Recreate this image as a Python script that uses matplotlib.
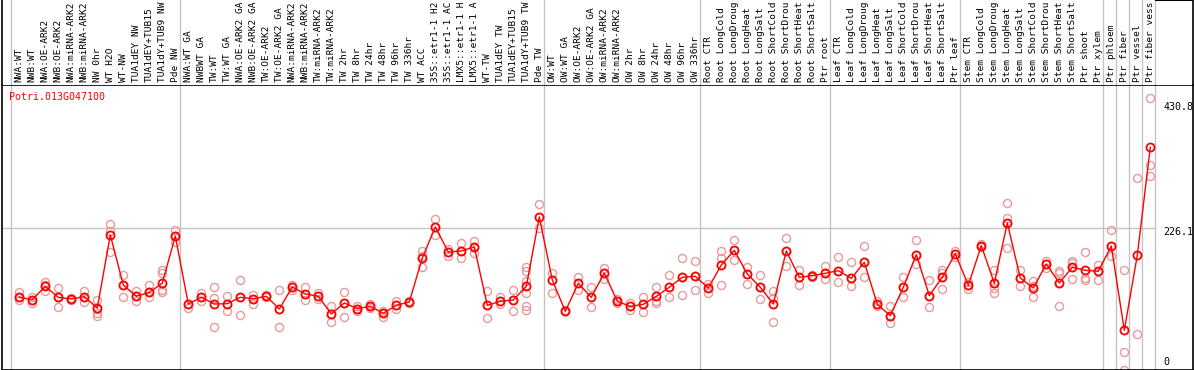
import matplotlib
matplotlib.use('Agg')
import matplotlib.pyplot as plt

# Sample labels (one per column), in plotting order, as shown (cut to 14 chars)
labels = [
    # NW group
    'NWA:WT', 'NWB:WT', 'NWA:OE-ARK2', 'NWB:OE-ARK2', 'NWA:miRNA-ARK2', 'NWB:miRNA-ARK2',
    'NW 0hr', 'WT H2O', 'WT-NW', 'TUA1dEY NW', 'TUA1dEY+TUB15', 'TUA1dY+TUB9 NW', 'Pde NW',
    # TW group
    'NWA:WT GA', 'NWBWT GA', 'TW:WT', 'TW:WT GA', 'NWA:OE-ARK2 GA', 'NWB:OE-ARK2 GA',
    'TW:OE-ARK2', 'TW:OE-ARK2 GA', 'NWA:miRNA-ARK2', 'NWB:miRNA-ARK2', 'TW:miRNA-ARK2',
    'TW:miRNA-ARK2', 'TW 2hr', 'TW 8hr', 'TW 24hr', 'TW 48hr', 'TW 96hr', 'TW 336hr', 'WT ACC',
    '35S::etr1-1 H2', '35S::etr1-1 AC', 'LMX5::etr1-1 H', 'LMX5::etr1-1 A', 'WT-TW',
    'TUA1dEY TW', 'TUA1dEY+TUB15', 'TUA1dY+TUB9 TW', 'Pde TW',
    # OW group
    'OW:WT', 'OW:WT GA', 'OW:OE-ARK2', 'OW:OE-ARK2 GA', 'OW:miRNA-ARK2', 'OW:miRNA-ARK2',
    'OW 2hr', 'OW 8hr', 'OW 24hr', 'OW 48hr', 'OW 96hr', 'OW 336hr',
    # Root
    'Root CTR', 'Root LongCold', 'Root LongDroug', 'Root LongHeat', 'Root LongSalt',
    'Root ShortCold', 'Root ShortDrou', 'Root ShortHeat', 'Root ShortSalt', 'Ptr root',
    # Leaf
    'Leaf CTR', 'Leaf LongCold', 'Leaf LongDroug', 'Leaf LongHeat', 'Leaf LongSalt',
    'Leaf ShortCold', 'Leaf ShortDrou', 'Leaf ShortHeat', 'Leaf ShortSalt', 'Ptr leaf',
    # Stem
    'Stem CTR', 'Stem LongCold', 'Stem LongDroug', 'Stem LongHeat', 'Stem LongSalt',
    'Stem ShortCold', 'Stem ShortDrou', 'Stem ShortHeat', 'Stem ShortSalt', 'Ptr shoot',
    'Ptr xylem',
    # wood cell types
    'Ptr phloem', 'Ptr fiber', 'Ptr vessel', 'Ptr fiber vess',
]

# first column index of each group (separator lines sit just before these)
group_starts = [0, 13, 41, 53, 63, 73, 84, 85, 86, 87]

# Mean expression per sample
means = [
    117.4, 113.7, 134.7, 117.4, 114.8, 118.5, 100.6, 215.6, 136.8, 119.0, 125.3, 139.5, 214.0,
    106.9, 117.4, 106.9, 107.4, 117.4, 115.3, 119.0, 99.0, 133.7, 122.7, 119.0, 91.2, 108.5,
    99.6, 103.2, 92.2, 104.8, 110.1, 179.3, 228.2, 188.8, 190.4, 196.7, 104.8, 111.1, 113.2,
    134.7, 243.9,
    144.7, 95.4, 139.5, 117.4, 155.7, 111.1, 103.2, 106.4, 119.0, 133.2, 148.9, 150.5,
    132.1, 168.3, 191.4, 154.1, 133.2, 106.9, 190.4, 148.9, 151.5, 155.2,
    159.4, 147.3, 172.5, 106.4, 88.5, 133.2, 184.6, 120.0, 148.9, 186.2,
    136.3, 198.8, 139.5, 234.5, 147.8, 132.1, 169.9, 140.0, 164.7, 159.9, 158.4,
    198.2, 65.5, 183.6, 353.6,
]

# Individual replicates per sample
replicates = [
    [125.8, 117.4, 112.7], [117.9, 113.7, 108.5], [141.0, 137.5, 126.9], [131.6, 117.4, 102.7],
    [116.5, 114.8, 113.5], [126.9, 118.5, 109.5], [112.7, 99.0, 92.7, 88.0], [232.4, 222.4, 188.3],
    [152.1, 136.8, 117.4], [127.9, 119.0, 111.1], [136.3, 125.3, 117.4],
    [161.0, 155.7, 129.0, 125.8], [222.9, 214.0, 204.5],
    [106.9, 100.6], [124.2, 117.4, 112.2], [133.2, 116.4, 70.2], [119.0, 107.4, 96.4],
    [144.2, 117.4, 89.1], [121.3, 115.3, 107.4], [120.5, 119.0, 117.5], [128.4, 99.0, 70.2],
    [137.4, 133.7, 129.0], [133.2, 122.7, 112.7], [124.2, 119.0, 114.5], [103.2, 91.2, 78.1],
    [125.8, 108.5, 85.9], [103.0, 99.6, 96.4], [106.4, 103.2, 100.0], [96.4, 92.2, 85.9],
    [111.1, 104.8, 99.6], [112.0, 110.1, 108.0], [190.9, 183.0, 164.7], [240.2, 228.2, 216.1],
    [193.5, 188.8, 183.0], [203.0, 190.4, 178.8], [205.6, 196.7, 186.7], [127.4, 104.8, 84.9],
    [117.4, 111.1, 106.4], [128.4, 113.2, 95.4], [164.7, 159.4, 142.6, 124.2, 103.2, 98.0],
    [263.8, 243.9, 226.6],
    [155.2, 144.7, 124.2], [97.0, 95.4], [148.9, 139.5, 129.0], [133.2, 117.4, 101.7],
    [163.6, 155.7, 146.8], [114.0, 111.1, 108.5], [108.5, 103.2, 98.0], [117.4, 106.4, 94.3],
    [133.2, 119.0, 111.1, 108.5], [152.1, 133.2, 117.4], [178.8, 148.9, 120.6],
    [174.6, 150.5, 128.4],
    [138.9, 132.1, 124.2], [189.8, 179.3, 136.3], [207.2, 191.4, 176.7], [164.7, 154.1, 138.4],
    [152.1, 133.2, 114.8], [126.9, 115.7, 78.1], [210.8, 190.4, 166.2], [161.0, 148.9, 136.3],
    [153.0, 151.5, 150.0], [166.2, 155.2, 146.3],
    [180.4, 159.4, 141.0], [172.5, 147.3, 135.3], [197.7, 172.5, 149.9], [111.1, 106.4, 103.0],
    [103.2, 88.5, 76.5], [148.9, 133.2, 117.4], [207.2, 184.6, 169.9], [144.2, 120.0, 101.7],
    [161.0, 155.0, 148.9, 130.0], [191.0, 186.2, 181.0],
    [141.0, 136.3, 131.0], [201.0, 198.8, 196.0], [161.0, 139.5, 132.1, 124.2],
    [265.4, 242.3, 234.5, 194.6], [159.9, 147.8, 134.7], [143.7, 135.0, 117.4],
    [175.1, 169.9, 164.0], [158.4, 156.0, 140.0, 103.2], [175.1, 172.0, 164.7, 145.8],
    [188.3, 147.3, 145.0], [168.8, 158.4, 144.2],
    [222.9, 198.2, 183.0], [159.9, 30.8, 3.5], [304.8, 60.2], [430.8, 325.3, 308.0],
]

gene = 'Potri.013G047100'
ytick_vals = [430.8, 226.1, 0]
ytick_offsets = [-6.5, -2.7, 7.1]   # label offsets in points

grid_col = '#c4c4c4'
mean_col = '#ff0000'
rep_col = '#e89a9a'
mono = 'DejaVu Sans Mono'

W, H = 1194, 370
fig = plt.figure(figsize=(W / 100, H / 100), dpi=100)

# pixel geometry of the two panels
x0_px, x1_px = 1.5, 1193.0
top_px, bot_px = 85.0, 369.6
col0_px, pitch_px = 19.3, 13.0
xlim = ((x0_px - col0_px) / pitch_px, (x1_px - col0_px) / pitch_px)

ax = fig.add_axes([x0_px / W, (H - bot_px) / H, (x1_px - x0_px) / W, (bot_px - top_px) / H])
ax_lab = fig.add_axes([x0_px / W, (H - top_px) / H, (x1_px - x0_px) / W, top_px / H])

n = len(labels)
xs = list(range(n))
seps = [s - 8 / 13 for s in group_starts] + [n - 1 + 5 / 13]

# main panel
ax.set_xlim(*xlim)
ax.set_ylim(3.6, 451.7)
ax.set_xticks([])
ax.set_yticks([])
for sp in ax.spines.values():
    sp.set_color('black')
    sp.set_linewidth(1.2)

for s in seps:
    ax.axvline(s, color=grid_col, lw=1, zorder=0)
ax.hlines(ytick_vals[1], xlim[0], seps[-1], color=grid_col, lw=1, zorder=0)

# replicates
for i, reps in enumerate(replicates):
    ax.plot([i] * len(reps), reps, 'o', ms=5.8, mfc='none', mec=rep_col, mew=1.0,
            zorder=2, clip_on=True)

# means
ax.plot(xs, means, '-o', color=mean_col, lw=1.0, ms=5.8, mfc='none', mec=mean_col,
        mew=1.3, zorder=3)

# gene id
ax.annotate(gene, xy=(0, 1), xycoords='axes fraction', xytext=(5.6, -8.4),
            textcoords='offset points', ha='left', va='center', color='red',
            family=mono, fontsize=7.2)

# value labels on the right
for v, off in zip(ytick_vals, ytick_offsets):
    ax.annotate(str(v) if v else '0', xy=(1, v), xycoords=('axes fraction', 'data'),
                xytext=(-21.4, off), textcoords='offset points', ha='left', va='center',
                family=mono, fontsize=7.2, annotation_clip=False)

# label panel
ax_lab.set_xlim(*xlim)
ax_lab.set_ylim(0, 1)
ax_lab.set_xticks([])
ax_lab.set_yticks([])
ax_lab.spines['top'].set_visible(False)
ax_lab.spines['bottom'].set_visible(False)
for sp in ('left', 'right'):
    ax_lab.spines[sp].set_linewidth(1.2)
for s in seps:
    ax_lab.axvline(s, color=grid_col, lw=1, zorder=0)
ax_lab.hlines(1, seps[-1], xlim[1], color='black', lw=1.5)

for i, lab in enumerate(labels):
    ax_lab.annotate(lab, xy=(i, 0), xycoords=('data', 'axes fraction'), xytext=(0, 2.2),
                    textcoords='offset points', rotation=90, ha='center', va='bottom',
                    family=mono, fontsize=6.8, annotation_clip=False)

fig.savefig('out.png', dpi=100)
